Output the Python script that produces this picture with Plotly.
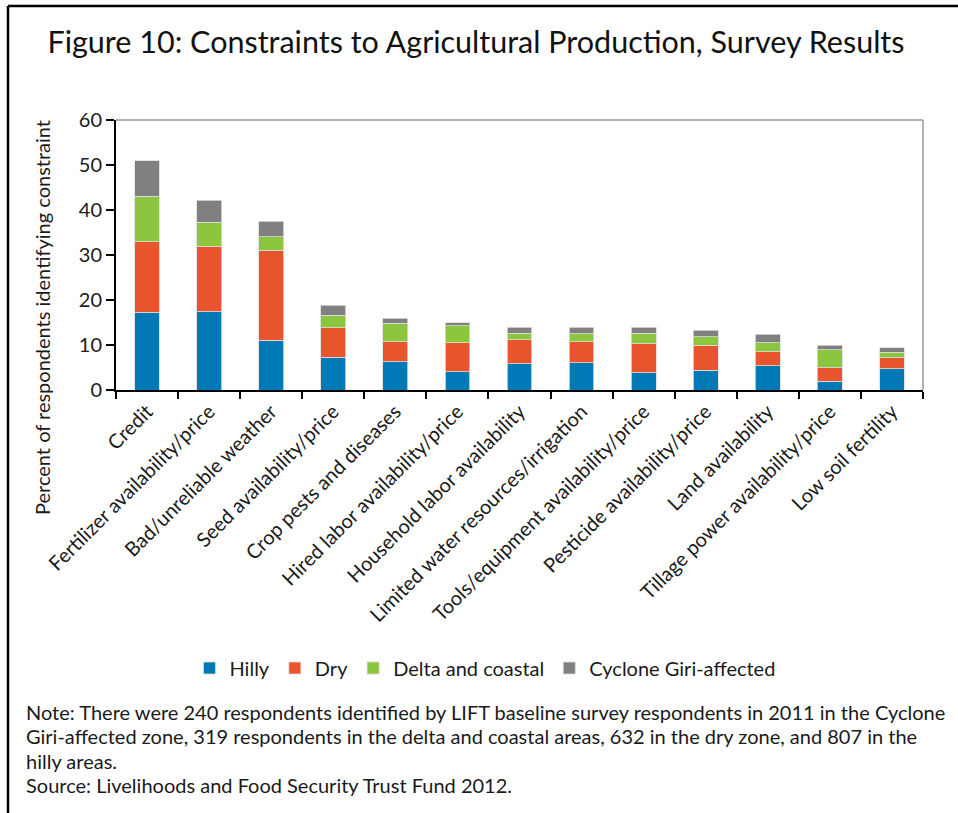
import plotly.graph_objects as go

categories = [
    "Credit", "Fertilizer availability/price", "Bad/unreliable weather",
    "Seed availability/price", "Crop pests and diseases", "Hired labor availability/price",
    "Household labor availability", "Limited water resources/irrigation",
    "Tools/equipment availability/price", "Pesticide availability/price",
    "Land availability", "Tillage power availability/price", "Low soil fertility",
]
hilly = [17.3, 17.4, 11.1, 7.3, 6.3, 4.1, 5.8, 6.1, 3.8, 4.4, 5.4, 1.9, 4.7]
dry = [15.7, 14.5, 20.0, 6.5, 4.4, 6.4, 5.4, 4.6, 6.5, 5.6, 3.1, 3.1, 2.5]
delta = [10.1, 5.4, 3.0, 2.8, 4.1, 3.8, 1.4, 1.8, 2.3, 1.8, 2.0, 4.0, 1.2]
cyclone = [7.8, 4.9, 3.4, 2.2, 1.1, 0.7, 1.4, 1.5, 1.3, 1.5, 1.9, 0.9, 1.0]

series = [
    ("Hilly", hilly, "#0079B6"),
    ("Dry", dry, "#E8542C"),
    ("Delta and coastal", delta, "#8CC63F"),
    ("Cyclone Giri-affected", cyclone, "#808080"),
]

note_lines = [
    "Note: There were 240 respondents identified by LIFT baseline survey respondents in 2011 in the Cyclone",
    "Giri-affected zone, 319 respondents in the delta and coastal areas, 632 in the dry zone, and 807 in the",
    "hilly areas.",
    "Source: Livelihoods and Food Security Trust Fund 2012.",
]

FONT = "Lato"
W, H = 958, 813
L, R, T, B = 116, 923, 120, 390

def px(x):
    return (x - L) / (R - L)

def py(y):
    return (B - y) / (B - T)

fig = go.Figure()
for name, vals, col in series:
    fig.add_trace(go.Bar(
        x=categories, y=vals, name=name,
        marker=dict(color=col, line=dict(color="#dcdcdc", width=0.8)),
    ))

annotations = [
    dict(text="Percent of respondents identifying constraint", xref="paper", yref="paper",
         x=px(42), y=py(318), xanchor="center", yanchor="middle", textangle=-90,
         showarrow=False, font=dict(size=20, family=FONT)),
]
for i, line in enumerate(note_lines):
    annotations.append(dict(
        text=line, xref="paper", yref="paper", x=px(24), y=py(712 + 24.3 * i),
        xanchor="left", yanchor="middle", align="left", showarrow=False,
        font=dict(size=20, family=FONT)))

fig.update_layout(
    width=W, height=H, autosize=False,
    margin=dict(l=L, r=W - R, t=T, b=H - B, pad=0),
    paper_bgcolor="white", plot_bgcolor="white",
    barmode="stack", bargap=0.6,
    font=dict(family=FONT, color="#1a1a1a", size=18),
    title=dict(text="Figure 10: Constraints to Agricultural Production, Survey Results",
               x=px(476), xref="paper", xanchor="center", y=1 - 42 / H, yanchor="middle",
               font=dict(size=30.5, family=FONT, color="#111111")),
    showlegend=True,
    legend=dict(orientation="h", x=px(485), xanchor="center", y=py(668), yanchor="middle",
                font=dict(size=20, family=FONT), traceorder="normal",
                itemwidth=30, bgcolor="rgba(0,0,0,0)"),
    xaxis=dict(
        showline=True, linecolor="black", linewidth=2,
        ticks="outside", tickson="boundaries", ticklen=7, tickcolor="black", tickwidth=1.5,
        tickangle=-45, tickfont=dict(size=20, family=FONT),
        showgrid=False, zeroline=False,
    ),
    yaxis=dict(
        range=[0, 60], dtick=10, showline=True, linecolor="black", linewidth=2,
        ticks="outside", ticklen=8, tickcolor="black", tickwidth=1.5,
        tickfont=dict(size=20, family=FONT), showgrid=False, zeroline=False,
    ),
    shapes=[
        dict(type="line", xref="paper", yref="paper", x0=0, x1=1, y0=1, y1=1,
             line=dict(color="#999999", width=1.5), layer="below"),
        dict(type="line", xref="paper", yref="paper", x0=1, x1=1, y0=0, y1=1,
             line=dict(color="#999999", width=1.5), layer="below"),
        dict(type="line", xref="paper", yref="paper", x0=px(8), x1=px(960), y0=py(6), y1=py(6),
             line=dict(color="black", width=2.5)),
        dict(type="line", xref="paper", yref="paper", x0=px(8), x1=px(8), y0=py(6), y1=py(815),
             line=dict(color="black", width=2.5)),
    ],
    annotations=annotations,
)

fig.write_html("out.html", config={"displayModeBar": False},
               post_script="document.body.style.margin='0';document.body.style.overflow='hidden';")
